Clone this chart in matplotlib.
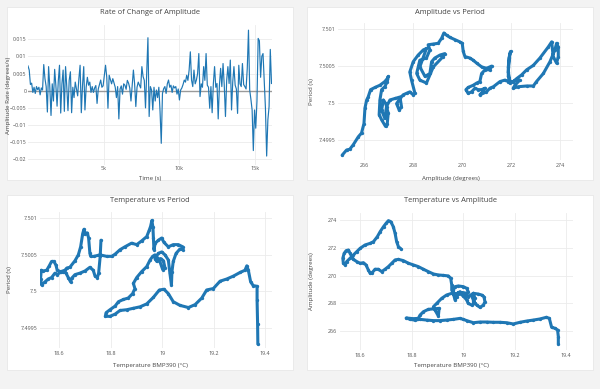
import matplotlib
matplotlib.use('Agg')

import matplotlib.pyplot as plt
from matplotlib.patches import Rectangle

plt.rcParams['font.family'] = ['Open Sans', 'DejaVu Sans']

# --- rate of change of amplitude (time in s, degrees/s) ---
time_s = [
    0, 80, 160, 240, 320, 400, 480, 560, 640, 720,
    800, 880, 960, 1040, 1120, 1200, 1280, 1360, 1440, 1520,
    1600, 1680, 1760, 1840, 1920, 2000, 2080, 2160, 2240, 2320,
    2400, 2480, 2560, 2640, 2720, 2800, 2880, 2960, 3040, 3120,
    3200, 3280, 3360, 3440, 3520, 3600, 3680, 3760, 3840, 3920,
    4000, 4080, 4160, 4240, 4320, 4400, 4480, 4560, 4640, 4720,
    4800, 4880, 4960, 5040, 5120, 5200, 5280, 5360, 5440, 5520,
    5600, 5680, 5760, 5840, 5920, 6000, 6080, 6160, 6240, 6320,
    6400, 6480, 6560, 6640, 6720, 6800, 6880, 6960, 7040, 7120,
    7200, 7280, 7360, 7440, 7520, 7600, 7680, 7760, 7840, 7920,
    8000, 8080, 8160, 8240, 8320, 8400, 8480, 8560, 8640, 8720,
    8800, 8880, 8960, 9040, 9120, 9200, 9280, 9360, 9440, 9520,
    9600, 9680, 9760, 9840, 9920, 10000, 10080, 10160, 10240, 10320,
    10400, 10480, 10560, 10640, 10720, 10800, 10880, 10960, 11040, 11120,
    11200, 11280, 11360, 11440, 11520, 11600, 11680, 11760, 11840, 11920,
    12000, 12080, 12160, 12240, 12320, 12400, 12480, 12560, 12640, 12720,
    12800, 12880, 12960, 13040, 13120, 13200, 13280, 13360, 13440, 13520,
    13600, 13680, 13760, 13840, 13920, 14000, 14080, 14160, 14240, 14320,
    14400, 14480, 14560, 14640, 14720, 14800, 14880, 14960, 15040, 15120,
    15200, 15280, 15360, 15440, 15520, 15600, 15680, 15760, 15840, 15920,
    16000, 16080,
]
amp_rate = [
    0.0072, 0.0060, 0.0018, 0.0022, -0.0005, 0.0010, -0.0008, 0.0012, 0.0003, 0.0010,
    -0.0012, 0.0008, 0.0002, 0.0076, 0.0035, 0.0012, -0.0062, 0.0070, 0.0010, -0.0072,
    0.0020, -0.0030, 0.0062, 0.0015, -0.0045, 0.0028, 0.0074, -0.0065, 0.0020, 0.0060,
    -0.0060, 0.0070, 0.0012, -0.0058, 0.0030, 0.0055, -0.0064, 0.0010, -0.0020, 0.0025,
    0.0005, -0.0015, 0.0035, 0.0074, -0.0064, 0.0015, 0.0070, -0.0056, 0.0010, 0.0039,
    0.0016, 0.0025, -0.0005, 0.0012, -0.0005, 0.0008, 0.0015, -0.0037, 0.0005, 0.0018,
    0.0031, 0.0010, 0.0014, 0.0045, 0.0074, 0.0040, -0.0051, 0.0045, 0.0032, 0.0020,
    0.0035, 0.0023, 0.0010, -0.0020, 0.0012, -0.0082, 0.0005, 0.0014, -0.0010, 0.0020,
    0.0016, 0.0004, 0.0030, 0.0022, 0.0008, -0.0030, 0.0014, 0.0060, 0.0020, -0.0046,
    0.0010, 0.0025, 0.0016, 0.0008, 0.0070, 0.0041, 0.0030, -0.0050, 0.0050, 0.0154,
    -0.0075, 0.0012, 0.0002, -0.0056, 0.0010, -0.0030, 0.0002, -0.0020, 0.0010, -0.0060,
    -0.0153, -0.0008, 0.0006, 0.0012, -0.0008, 0.0020, 0.0031, 0.0010, 0.0016, -0.0005,
    0.0014, 0.0008, 0.0012, -0.0010, 0.0005, -0.0027, 0.0002, 0.0008, 0.0018, 0.0031,
    0.0025, 0.0045, 0.0030, 0.0060, 0.0113, 0.0031, 0.0012, 0.0060, 0.0020, 0.0031,
    0.0050, 0.0108, -0.0017, 0.0020, 0.0010, 0.0070, 0.0030, 0.0108, 0.0016, 0.0010,
    -0.0051, 0.0012, -0.0064, 0.0020, 0.0070, 0.0010, 0.0021, -0.0082, 0.0015, 0.0065,
    0.0012, 0.0079, 0.0016, -0.0075, 0.0030, 0.0070, 0.0021, 0.0089, -0.0056, 0.0025,
    0.0070, 0.0016, 0.0005, -0.0066, 0.0074, 0.0020, 0.0012, 0.0079, 0.0018, 0.0012,
    0.0005, 0.0065, 0.0176, 0.0002, -0.0025, -0.0056, -0.0174, -0.0056, -0.0109, -0.0030,
    0.0152, 0.0145, 0.0039, 0.0100, 0.0108, 0.0031, -0.0051, -0.0190, -0.0085, -0.0046,
    0.0120, 0.0021,
]

# --- amplitude vs period ---
ap_amp = [
    265.10, 265.28, 265.41, 265.55, 265.76, 265.89, 265.99, 266.03, 266.10, 266.16,
    266.26, 266.44, 266.64, 266.84, 266.94, 266.98, 266.94, 266.84, 266.71, 266.64,
    266.61, 266.71, 266.87, 266.94, 266.98, 266.88, 266.78, 266.71, 266.84, 266.91,
    267.05, 267.25, 267.46, 267.52, 267.43, 267.32, 267.46, 267.59, 267.73, 267.86,
    268.00, 268.07, 267.93, 267.86, 268.00, 268.20, 268.41, 268.54,
    268.27, 268.48, 268.68, 268.75, 268.88, 269.09, 269.29, 269.22, 268.82, 268.54,
    268.27, 268.14, 268.27, 268.54, 268.68,
    268.61, 268.82, 269.02, 269.16, 269.25, 269.36, 269.50, 269.70, 269.90, 270.00,
    270.04, 270.11, 270.31, 270.45, 270.59, 270.79, 270.99, 271.20, 271.13, 270.93,
    270.79, 270.72, 270.59, 270.45, 270.24, 270.15, 270.24, 270.38, 270.52, 270.65,
    270.79, 270.93, 270.83, 270.72, 270.99, 271.13, 271.27, 271.54, 271.74, 271.88,
    271.95, 271.88, 271.88, 271.92, 271.97, 271.92, 271.88, 271.95, 272.08, 272.22,
    272.35, 272.15, 272.08, 272.29, 272.63, 272.90, 273.03, 273.31, 273.58, 273.78,
    273.85, 273.92, 273.92, 273.85, 273.71, 273.65, 273.51, 273.17, 272.90, 272.63,
    272.42, 272.22, 272.08,
]
ap_period = [
    7.49929, 7.49936, 7.49937, 7.49943, 7.49954, 7.49959, 7.49972, 7.49993, 7.50004, 7.50008,
    7.50018, 7.50021, 7.50024, 7.50029, 7.50033, 7.50036, 7.50029, 7.50022, 7.50018, 7.50004,
    7.49984, 7.49977, 7.49968, 7.49972, 7.49986, 7.49999, 7.50004, 7.49990, 7.49979, 7.49995,
    7.50004, 7.50006, 7.50008, 7.49995, 7.49990, 7.49999, 7.50006, 7.50011, 7.50013, 7.50015,
    7.50011, 7.50013, 7.50031, 7.50042, 7.50056, 7.50065, 7.50072, 7.50074,
    7.50049, 7.50036, 7.50040, 7.50056, 7.50061, 7.50065, 7.50067, 7.50063, 7.50049, 7.50027,
    7.50031, 7.50040, 7.50058, 7.50061, 7.50072,
    7.50079, 7.50080, 7.50081, 7.50088, 7.50095, 7.50092, 7.50089, 7.50086, 7.50083, 7.50081,
    7.50070, 7.50063, 7.50061, 7.50058, 7.50054, 7.50049, 7.50047, 7.50050, 7.50045, 7.50045,
    7.50040, 7.50029, 7.50027, 7.50024, 7.50021, 7.50018, 7.50013, 7.50015, 7.50020, 7.50018,
    7.50018, 7.50020, 7.50015, 7.50011, 7.50015, 7.50020, 7.50022, 7.50029, 7.50031, 7.50029,
    7.50027, 7.50036, 7.50049, 7.50063, 7.50070, 7.50061, 7.50042, 7.50029, 7.50029, 7.50031,
    7.50031, 7.50024, 7.50020, 7.50022, 7.50023, 7.50023, 7.50029, 7.50040, 7.50056, 7.50072,
    7.50081, 7.50076, 7.50063, 7.50054, 7.50063, 7.50083, 7.50076, 7.50061, 7.50051, 7.50045,
    7.50038, 7.50033, 7.50029,
]

# --- temperature vs period ---
tp_temp = [
    18.762, 18.759, 18.753, 18.748, 18.739, 18.732, 18.719, 18.700, 18.680, 18.661,
    18.648, 18.644, 18.635, 18.626, 18.616, 18.603, 18.592, 18.583, 18.570, 18.557,
    18.544, 18.531, 18.527, 18.530, 18.538, 18.551, 18.561, 18.570, 18.579, 18.587,
    18.592, 18.605, 18.622, 18.629, 18.641, 18.661, 18.674, 18.683, 18.691, 18.696,
    18.701, 18.709, 18.714, 18.719, 18.722, 18.735, 18.758, 18.784, 18.804, 18.817,
    18.836, 18.855, 18.881, 18.901, 18.920, 18.940, 18.950, 18.955, 18.960, 18.964,
    18.966, 18.968, 18.973, 18.985, 18.998, 19.007, 19.024, 19.043, 19.063, 19.080,
    19.080, 19.069, 19.054, 19.043, 19.038, 19.036, 19.030, 19.024, 19.011, 18.998,
    18.985, 18.972, 18.979, 18.994, 19.005, 19.011, 19.002, 18.989, 18.972, 18.963,
    18.953, 18.940, 18.920, 18.901, 18.888, 18.894, 18.885, 18.868, 18.849, 18.830,
    18.817, 18.797, 18.782, 18.779, 18.797, 18.817, 18.836, 18.862, 18.888, 18.914,
    18.940, 18.966, 18.989, 19.007, 19.024, 19.043, 19.069, 19.102, 19.128, 19.154,
    19.173, 19.199, 19.225, 19.251, 19.277, 19.303, 19.322, 19.329, 19.335, 19.344,
    19.354, 19.369, 19.369, 19.371, 19.372,
]
tp_period = [
    7.50070, 7.50048, 7.50025, 7.50019, 7.50021, 7.50029, 7.50033, 7.50028, 7.50025, 7.50023,
    7.50018, 7.50013, 7.50019, 7.50025, 7.50027, 7.50026, 7.50023, 7.50025, 7.50019, 7.50017,
    7.50013, 7.50009, 7.50017, 7.50029, 7.50028, 7.50029, 7.50035, 7.50041, 7.50041, 7.50036,
    7.50029, 7.50027, 7.50029, 7.50032, 7.50033, 7.50042, 7.50050, 7.50061, 7.50079, 7.50085,
    7.50079, 7.50080, 7.50073, 7.50052, 7.50048, 7.50048, 7.50050, 7.50048, 7.50048, 7.50051,
    7.50057, 7.50061, 7.50066, 7.50064, 7.50069, 7.50075, 7.50084, 7.50089, 7.50097, 7.50088,
    7.50073, 7.50057, 7.50066, 7.50070, 7.50073, 7.50067, 7.50061, 7.50064, 7.50064, 7.50061,
    7.50057, 7.50058, 7.50052, 7.50041, 7.50027, 7.50009, 7.50025, 7.50043, 7.50050, 7.50054,
    7.50052, 7.50045, 7.50041, 7.50045, 7.50042, 7.50032, 7.50030, 7.50043, 7.50050, 7.50048,
    7.50043, 7.50034, 7.50027, 7.50019, 7.50011, 7.50004, 7.49997, 7.49991, 7.49989, 7.49986,
    7.49980, 7.49975, 7.49971, 7.49966, 7.49966, 7.49969, 7.49974, 7.49975, 7.49977, 7.49979,
    7.49983, 7.49992, 7.50002, 7.50003, 7.49997, 7.49986, 7.49981, 7.49978, 7.49982, 7.49991,
    7.50002, 7.50004, 7.50014, 7.50017, 7.50021, 7.50026, 7.50029, 7.50035, 7.50029, 7.50013,
    7.50008, 7.50007, 7.49988, 7.49956, 7.49928,
]

# --- temperature vs amplitude ---
ta_temp = [
    18.759, 18.749, 18.742, 18.736, 18.729, 18.719, 18.710, 18.701, 18.691, 18.678,
    18.667, 18.652, 18.639, 18.619, 18.600, 18.587, 18.574, 18.561, 18.548, 18.542,
    18.535, 18.533, 18.538, 18.546, 18.555, 18.561, 18.568, 18.574, 18.587, 18.600,
    18.613, 18.623, 18.632, 18.639, 18.645, 18.658, 18.671, 18.684, 18.697, 18.710,
    18.723, 18.736, 18.749, 18.768, 18.788, 18.807, 18.826, 18.846, 18.865, 18.885,
    18.904, 18.923, 18.943, 18.952, 18.956, 18.956, 18.962, 18.969, 18.975, 18.982,
    18.988, 19.001, 19.014, 19.020, 19.014, 19.001, 18.982, 18.969, 18.962, 18.965,
    18.982, 19.001, 19.014, 19.020, 19.033, 19.046, 19.040, 19.033, 19.040, 19.046,
    19.040, 19.053, 19.066, 19.079, 19.085, 19.081, 19.072, 19.059, 19.040, 19.020,
    19.007, 18.988, 18.975, 18.956, 18.936, 18.917, 18.898, 18.885, 18.891, 18.904,
    18.907, 18.865, 18.846, 18.833, 18.826, 18.807, 18.779, 18.794, 18.813, 18.833,
    18.859, 18.885, 18.910, 18.936, 18.962, 18.988, 19.001, 19.014, 19.040, 19.066,
    19.092, 19.117, 19.143, 19.169, 19.195, 19.221, 19.247, 19.273, 19.299, 19.324,
    19.335, 19.344, 19.357, 19.367, 19.370, 19.370,
]
ta_amp = [
    271.92, 272.08, 272.44, 273.04, 273.52, 273.88, 273.95, 273.76, 273.52, 273.16,
    272.80, 272.44, 272.32, 272.20, 271.96, 271.72, 271.49, 271.25, 271.01, 270.77,
    270.89, 271.25, 271.60, 271.80, 271.84, 271.60, 271.37, 271.17, 271.01, 270.89,
    270.93, 270.77, 270.41, 270.17, 270.17, 270.46, 270.46, 270.29, 270.46, 270.65,
    270.89, 271.13, 271.17, 271.08, 270.89, 270.77, 270.65, 270.46, 270.29, 270.12,
    270.05, 270.02, 269.98, 269.81, 269.33, 268.97, 268.73, 268.25, 268.49, 268.68,
    268.73, 268.78, 268.73, 268.85, 269.09, 269.21, 269.26, 269.21, 268.97, 268.61,
    268.78, 268.54, 268.25, 268.01, 267.89, 268.01, 268.25, 268.54, 268.73, 268.37,
    268.13, 267.89, 267.72, 267.89, 268.13, 268.49, 268.61, 268.68, 268.73, 268.49,
    268.61, 268.85, 268.68, 268.73, 268.61, 268.37, 268.01, 267.77, 267.53, 267.10,
    267.65, 267.58, 267.41, 267.17, 266.93, 266.91, 266.96, 266.86, 266.81, 266.86,
    266.81, 266.77, 266.77, 266.81, 266.86, 266.93, 266.86, 266.77, 266.62, 266.67,
    266.67, 266.65, 266.65, 266.62, 266.53, 266.65, 266.74, 266.81, 266.89, 267.01,
    266.93, 266.29, 266.22, 266.10, 265.62, 265.09,
]

W, H = 600, 389
BLUE = '#1f77b4'
TXT = '#444444'


def box(x0, y0, x1, y1):
    return [x0 / W, 1 - y1 / H, (x1 - x0) / W, (y1 - y0) / H]


def style(ax):
    ax.set_facecolor('white')
    for s in ax.spines.values():
        s.set_visible(False)
    ax.grid(True, color='#ebebeb', lw=0.6)
    ax.set_axisbelow(True)
    ax.tick_params(length=0, labelsize=3.9, labelcolor='#555555', pad=2)


fig = plt.figure(figsize=(6, 3.89), dpi=100, facecolor='#f3f3f3')

panels = [(7, 7, 293, 180), (307, 7, 593, 180), (7, 195, 293, 370), (307, 195, 593, 370)]
titles = ['Rate of Change of Amplitude', 'Amplitude vs Period',
          'Temperature vs Period', 'Temperature vs Amplitude']
for (x0, y0, x1, y1), t in zip(panels, titles):
    fig.patches.append(Rectangle((x0 / W, 1 - y1 / H), (x1 - x0) / W, (y1 - y0) / H,
                                 transform=fig.transFigure, facecolor='white',
                                 edgecolor='#e4e4e4', lw=0.5, zorder=-5))
    fig.text((x0 + x1) / 2 / W, 1 - (y0 + 6) / H, t, ha='center', va='center',
             fontsize=5.4, color=TXT)

period_ticks = [7.4995, 7.5, 7.5005, 7.501]
period_labels = ['7.4995', '7.5', '7.5005', '7.501']
temp_ticks = [18.6, 18.8, 19.0, 19.2, 19.4]
temp_labels = ['18.6', '18.8', '19', '19.2', '19.4']

# panel 1
ax1 = fig.add_axes(box(28, 25, 271.5, 165))
style(ax1)
ax1.axhline(0, color='#9a9a9a', lw=1.0, zorder=1)
ax1.plot(time_s, amp_rate, color=BLUE, lw=0.85, zorder=2)
ax1.set_xlim(0, 16080)
ax1.set_ylim(-0.0216, 0.0191)
ax1.set_xticks([5000, 10000, 15000], ['5k', '10k', '15k'])
yt = [-0.02, -0.015, -0.01, -0.005, 0, 0.005, 0.01, 0.015]
ax1.set_yticks(yt, ['\u22120.02', '\u22120.015', '\u22120.01', '\u22120.005', '0',
                    '0.005', '0.01', '0.015'])
ax1.tick_params(axis='x', pad=1)
ax1.tick_params(axis='y', pad=1)

# panel 2
ax2 = fig.add_axes(box(338, 23, 573, 160))
style(ax2)
ax2.plot(ap_amp, ap_period, color=BLUE, lw=2.2, marker='o', ms=2.4, mew=0,
         solid_capstyle='round', solid_joinstyle='round')
ax2.set_xlim(264.93, 274.52)
ax2.set_ylim(7.499224, 7.501086)
ax2.set_xticks([266, 268, 270, 272, 274], ['266', '268', '270', '272', '274'])
ax2.set_yticks(period_ticks, period_labels)

# panel 3
ax3 = fig.add_axes(box(40, 212, 272, 348))
style(ax3)
ax3.plot(tp_temp, tp_period, color=BLUE, lw=2.2, marker='o', ms=2.4, mew=0,
         solid_capstyle='round', solid_joinstyle='round')
ax3.set_xlim(18.525, 19.427)
ax3.set_ylim(7.499227, 7.501086)
ax3.set_xticks(temp_ticks, temp_labels)
ax3.set_yticks(period_ticks, period_labels)

# panel 4
ax4 = fig.add_axes(box(340, 213, 573, 350))
style(ax4)
ax4.plot(ta_temp, ta_amp, color=BLUE, lw=2.2, marker='o', ms=2.4, mew=0,
         solid_capstyle='round', solid_joinstyle='round')
ax4.set_xlim(18.522, 19.427)
ax4.set_ylim(264.66, 274.50)
ax4.set_xticks(temp_ticks, temp_labels)
ax4.set_yticks([266, 268, 270, 272, 274], ['266', '268', '270', '272', '274'])

# axis titles
xlabels = [(150, 178, 'Time (s)'), (451, 178, 'Amplitude (degrees)'),
           (150, 366, 'Temperature BMP390 (\u00b0C)'), (451, 366, 'Temperature BMP390 (\u00b0C)')]
for x, y, s in xlabels:
    fig.text(x / W, 1 - y / H, s, ha='center', va='center', fontsize=4.4, color=TXT)
ylabels = [(9, 95, 'Amplitude Rate (degrees/s)'), (311, 92, 'Period (s)'),
           (10, 280, 'Period (s)'), (311, 281, 'Amplitude (degrees)')]
for x, y, s in ylabels:
    fig.text(x / W, 1 - y / H, s, ha='center', va='center', rotation=90,
             fontsize=4.4, color=TXT)

fig.savefig('out.png', dpi=100, facecolor=fig.get_facecolor())
